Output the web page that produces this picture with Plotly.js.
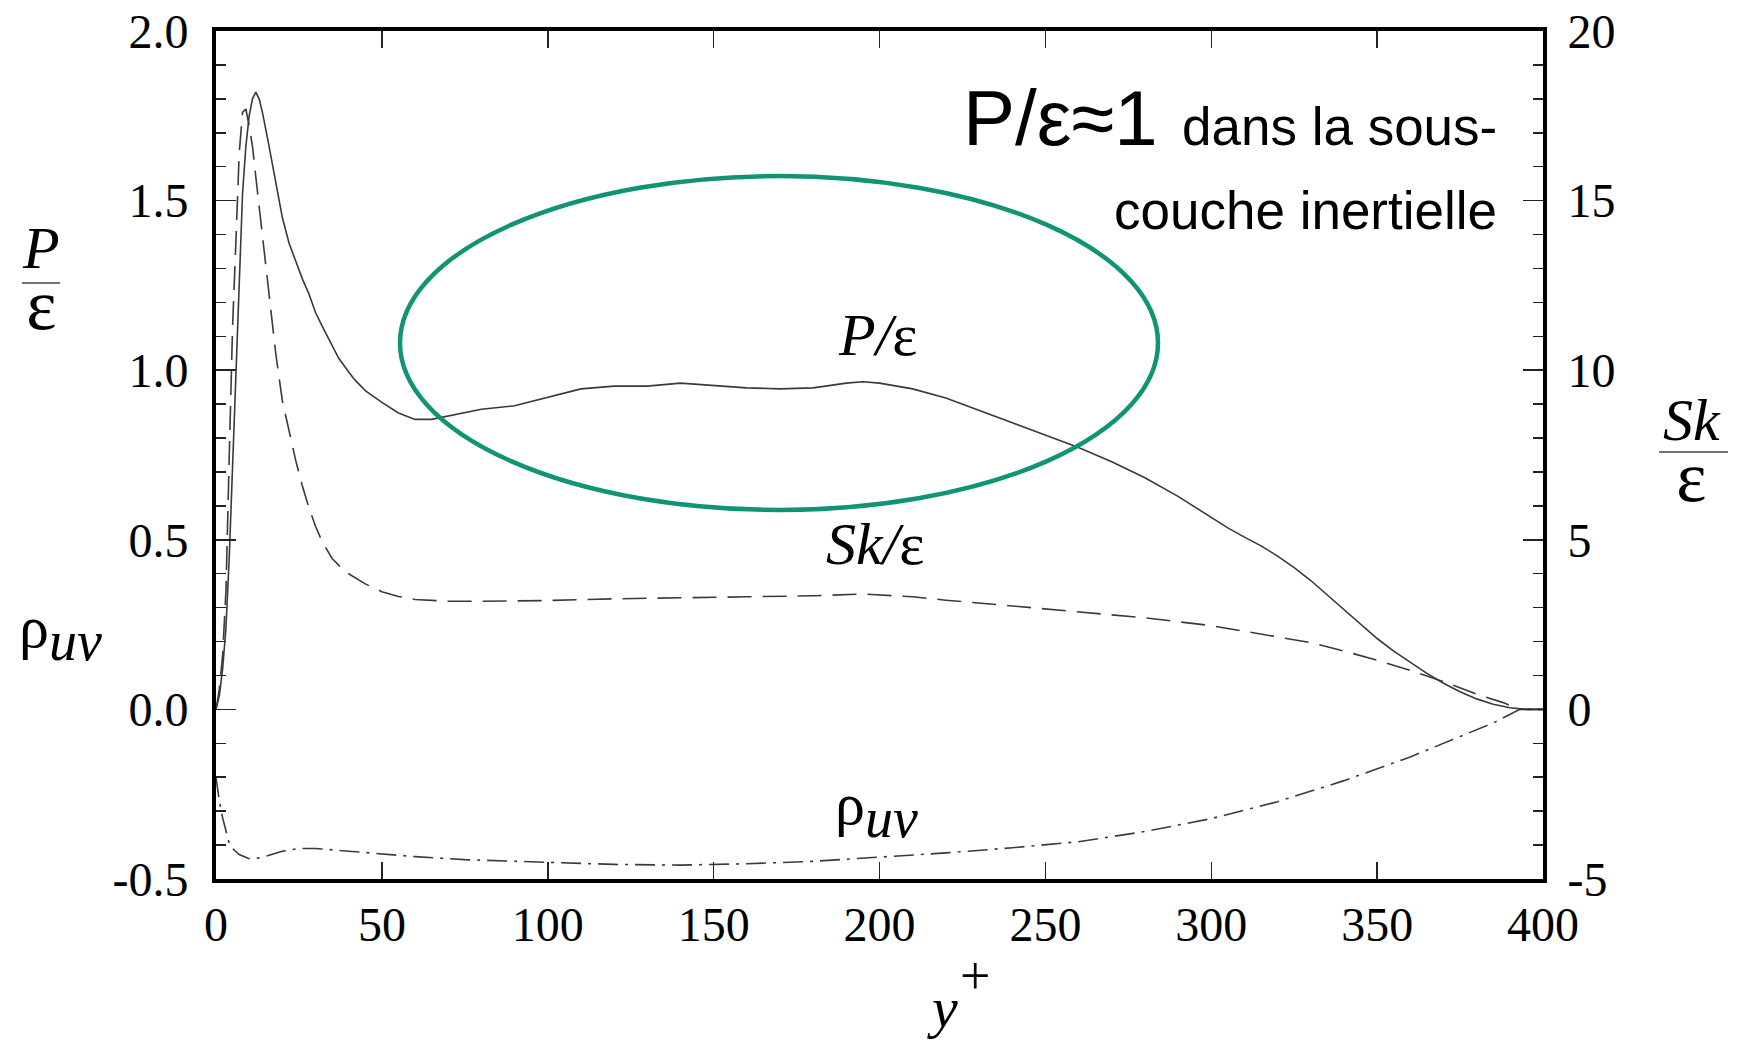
<!DOCTYPE html>
<html>
<head>
<meta charset="utf-8">
<script src="https://cdn.plot.ly/plotly-3.0.1.min.js"></script>
<style>html,body{margin:0;padding:0;background:#fff;}#chart{width:1737px;height:1042px;}</style>
</head>
<body>
<div id="chart"></div>
<script>
// ---- data ----
const pEpsX = [0,1,2,3,4,5,6,7,8,9,10,11,12,13,14,16,18,20,22,24,26,28,30,32,35,37,40,42,45,47,50,55,60,65,70,75,80,90,100,110,120,130,140,150,160,170,180,190,195,200,210,220,230,240,250,260,270,280,290,300,305,310,315,320,325,330,335,340,345,350,355,360,365,370,375,380,385,390,395,400];
const pEpsY = [0,0.04,0.12,0.24,0.45,0.73,1.0,1.30,1.52,1.66,1.75,1.80,1.82,1.80,1.76,1.66,1.56,1.45,1.375,1.32,1.27,1.225,1.17,1.13,1.075,1.035,0.995,0.97,0.94,0.925,0.905,0.874,0.855,0.855,0.865,0.875,0.885,0.895,0.92,0.945,0.953,0.953,0.962,0.955,0.948,0.945,0.948,0.962,0.966,0.962,0.945,0.918,0.882,0.845,0.81,0.772,0.73,0.683,0.628,0.565,0.535,0.508,0.482,0.452,0.418,0.38,0.337,0.293,0.25,0.209,0.172,0.138,0.106,0.077,0.052,0.031,0.015,0.005,0,0];

const skEpsX = [0,1,2,3,4,5,6,7,8,9,10,11,12,13,14,16,18,20,22,24,26,28,30,32,35,38,40,45,50,55,60,70,80,90,100,120,140,160,180,195,210,220,240,260,280,300,320,330,340,350,360,370,380,388,393,400];
const skEpsY = [0,0.6,1.6,3.5,7.5,11.3,13.8,16.4,17.6,17.7,17.2,16.6,15.7,14.8,13.9,12.1,10.5,9.1,8.2,7.35,6.6,5.95,5.4,4.95,4.45,4.15,4.0,3.7,3.47,3.33,3.24,3.19,3.19,3.19,3.21,3.26,3.30,3.32,3.35,3.40,3.32,3.22,3.05,2.88,2.70,2.47,2.15,1.97,1.72,1.45,1.15,0.82,0.45,0.2,0,0];

const rhoUvX = [0,1,2,3,4,5,7,10,13,16,20,25,30,40,50,60,75,100,120,140,160,180,200,220,240,260,280,300,320,340,360,375,385,393,400];
const rhoUvY = [-0.2,-0.27,-0.32,-0.36,-0.395,-0.41,-0.428,-0.44,-0.438,-0.43,-0.418,-0.41,-0.41,-0.418,-0.426,-0.434,-0.443,-0.452,-0.457,-0.459,-0.455,-0.448,-0.436,-0.423,-0.408,-0.39,-0.36,-0.322,-0.272,-0.21,-0.14,-0.08,-0.04,0,0];

const xTickVals = [0,50,100,150,200,250,300,350,400];
const xTickText = ['0','50','100','150','200','250','300','350','400'];
const yTickVals = [-0.5,0,0.5,1,1.5,2];
const yTickText = ['-0.5','0.0','0.5','1.0','1.5','2.0'];
const y2TickVals = [-5,0,5,10,15,20];
const y2TickText = ['-5','0','5','10','15','20'];

// ---- layout helpers (pixel -> paper) ----
const W = 1737, H = 1042;
const M = {l:216, r:194, t:31, b:163};
const PW = W - M.l - M.r, PH = H - M.t - M.b;
const px = X => (X - M.l) / PW;
const py = Y => (H - M.b - Y) / PH;
const SERIF = 'Liberation Serif, Times New Roman, serif';
const SANS = 'Liberation Sans, Arial, sans-serif';
const CURVE = '#3a3a3a';

function ann(text, X, Y, size, family, xanchor) {
  return {text: text, xref:'paper', yref:'paper', x: px(X), y: py(Y),
          xanchor: xanchor || 'center', yanchor:'middle', showarrow:false,
          font:{family: family || SERIF, size: size, color:'black'}};
}

const traces = [
  {x: pEpsX, y: pEpsY, mode:'lines', line:{color:CURVE, width:1.6}, yaxis:'y', hoverinfo:'skip'},
  {x: skEpsX, y: skEpsY, mode:'lines', line:{color:CURVE, width:1.6, dash:'24px,11px'}, yaxis:'y2', hoverinfo:'skip'},
  {x: rhoUvX, y: rhoUvY, mode:'lines', line:{color:CURVE, width:1.6, dash:'20px,7px,3px,7px'}, yaxis:'y', hoverinfo:'skip'}
];

const tickFont = {family: SERIF, size: 48, color:'black'};

const FRAC_EPS = "<span style='font-size:72px'>ε</span>";
const RHO_UV = "ρ<sub><span style='font-size:56px'><i>uv</i></span></sub>";

const layout = {
  width: W, height: H,
  margin: M,
  paper_bgcolor:'white', plot_bgcolor:'white',
  showlegend:false,
  xaxis: {
    range:[0,400], tickmode:'array', tickvals:xTickVals, ticktext:xTickText,
    ticks:'inside', ticklen:17, tickwidth:1.5, tickcolor:'#222',
    showline:true, linewidth:4, linecolor:'black', mirror:'ticks',
    showgrid:false, zeroline:false, tickfont:tickFont, ticklabelstandoff:0
  },
  yaxis: {
    range:[-0.5,2], tickmode:'array', tickvals:yTickVals, ticktext:yTickText,
    ticks:'inside', ticklen:20, tickwidth:1.5, tickcolor:'#222',
    minor:{ticks:'inside', ticklen:10, tickwidth:1.5, tickcolor:'#222', tickmode:'linear', tick0:0, dtick:0.1, showgrid:false},
    showline:true, linewidth:4, linecolor:'black', mirror:false,
    showgrid:false, zeroline:false, tickfont:tickFont, ticklabelstandoff:14
  },
  yaxis2: {
    overlaying:'y', side:'right', anchor:'x',
    range:[-5,20], tickmode:'array', tickvals:y2TickVals, ticktext:y2TickText,
    ticks:'inside', ticklen:20, tickwidth:1.5, tickcolor:'#222',
    minor:{ticks:'inside', ticklen:10, tickwidth:1.5, tickcolor:'#222', tickmode:'linear', tick0:0, dtick:1, showgrid:false},
    showline:true, linewidth:4, linecolor:'black',
    showgrid:false, zeroline:false, tickfont:tickFont, ticklabelstandoff:11
  },
  shapes: [
    // green ellipse highlighting the inertial sublayer
    {type:'circle', xref:'paper', yref:'paper', x0:px(400), x1:px(1158), y0:py(510), y1:py(176),
     line:{color:'#119473', width:4.5}},
    // fraction bars of the axis titles
    {type:'line', xref:'paper', yref:'paper', x0:px(22), x1:px(60), y0:py(283), y1:py(283), line:{color:'#444', width:1.5}},
    {type:'line', xref:'paper', yref:'paper', x0:px(1659), x1:px(1728), y0:py(452), y1:py(452), line:{color:'#444', width:1.5}}
  ],
  annotations: [
    // statement at top right
    ann('P/ε≈1', 1160, 118, 78, SANS, 'right'),
    ann('dans la sous-', 1499, 127, 53, SANS, 'right'),
    ann('couche inertielle', 1499, 210, 53, SANS, 'right'),
    // curve labels
    ann('<i>P/</i>ε', 878, 335, 60),
    ann('<i>Sk/</i>ε', 875, 544, 60),
    ann(RHO_UV, 876, 810, 60),
    // left axis titles
    ann("<span style='font-size:60px'><i>P</i></span><br>" + FRAC_EPS, 41, 280, 47),
    ann(RHO_UV, 60, 633, 60),
    // right axis title
    ann("<span style='font-size:60px'><i>Sk</i></span><br>" + FRAC_EPS, 1692, 452, 47),
    // x axis title
    ann('<i>y</i>', 942, 1007, 58),
    ann('+', 975, 976, 54)
  ]
};

Plotly.newPlot('chart', traces, layout, {staticPlot:true, displayModeBar:false});
</script>
</body>
</html>
